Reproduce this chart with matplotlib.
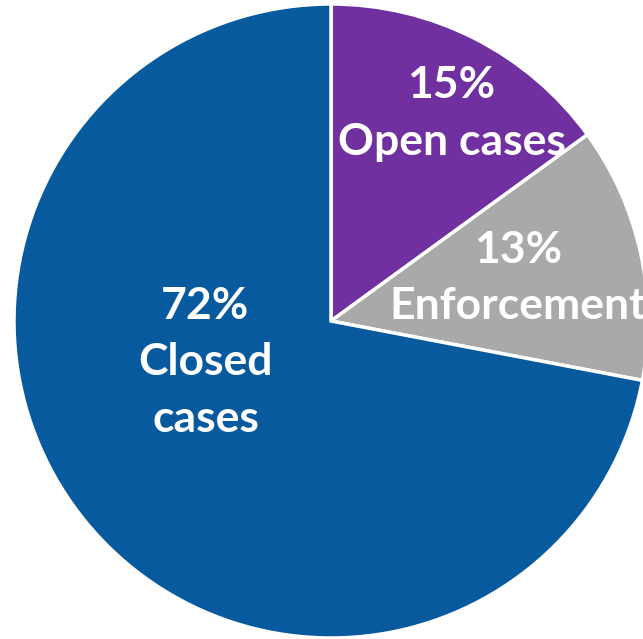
import matplotlib
matplotlib.use("Agg")
import matplotlib.pyplot as plt

categories = ["Open cases", "Enforcement", "Closed\ncases"]
values = [15, 13, 72]
colors = ["#7030A0", "#A9A9A9", "#085A9F"]
label_pos = [(0.380, 0.655), (0.589, 0.136), (-0.396, -0.130)]

W, H = 643, 639
cx, cy, R = 331, 321, 317
fig = plt.figure(figsize=(W / 100, H / 100), dpi=100)
ax = fig.add_axes([(cx - R) / W, (H - cy - R) / H, 2 * R / W, 2 * R / H])
ax.pie(values, colors=colors, startangle=90, counterclock=False, radius=1,
       wedgeprops=dict(edgecolor="white", linewidth=2.5))
ax.set_xlim(-1, 1)
ax.set_ylim(-1, 1)
ax.set_aspect("equal")
ax.axis("off")

for cat, v, (x, y) in zip(categories, values, label_pos):
    ax.text(x, y, f"{v}%\n{cat}", ha="center", va="center", color="white",
            fontsize=32, fontweight="bold", family="Lato", linespacing=1.5)

fig.savefig("out.png", dpi=100)
